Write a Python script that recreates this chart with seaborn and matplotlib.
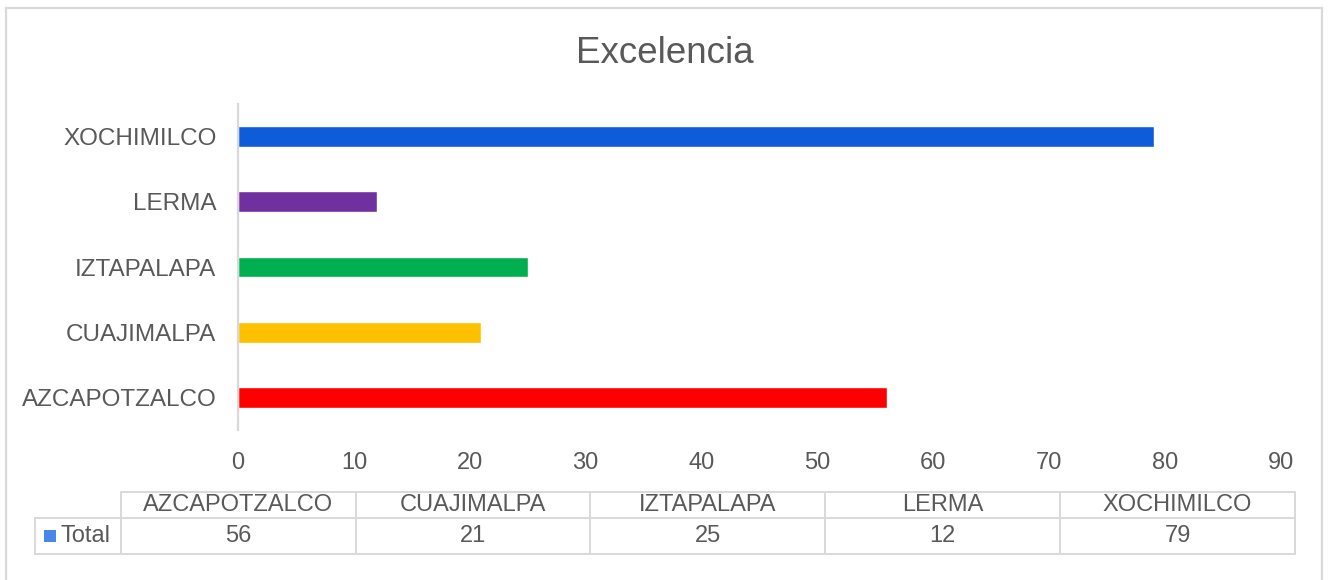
import matplotlib
matplotlib.use("Agg")
import pandas as pd
import seaborn as sns
import matplotlib.pyplot as plt
from matplotlib.patches import Rectangle
from matplotlib.lines import Line2D

# data (table order)
categories = ["AZCAPOTZALCO", "CUAJIMALPA", "IZTAPALAPA", "LERMA", "XOCHIMILCO"]
totals = [56, 21, 25, 12, 79]
bar_colors = ["#FF0000", "#FFC000", "#00B050", "#7030A0", "#0F5CDB"]
series_name = "Total"
title = "Excelencia"

W, H = 1329, 580
TXT = "#595959"
GRID = "#D9D9D9"

sns.set_style("white")
plt.rcParams['font.family'] = ['Liberation Sans', 'DejaVu Sans']

df = pd.DataFrame({"Campus": categories, "Total": totals})
palette = dict(zip(categories, bar_colors))

fig = plt.figure(figsize=(W / 100, H / 100), dpi=100)


def fx(px):
    return px / W


def fy(py):
    return 1 - py / H


ax = fig.add_axes([fx(238), fy(430), fx(1281) - fx(238), fy(104) - fy(430)])
sns.barplot(ax=ax, data=df, y="Campus", x="Total", hue="Campus", order=categories[::-1],
            palette=palette, legend=False, width=0.32, saturation=1)

ax.set_xlim(0, 90)
ax.set_xticks(range(0, 91, 10))
ax.set_xlabel("")
ax.set_ylabel("")
for s in ["top", "right", "bottom"]:
    ax.spines[s].set_visible(False)
ax.spines["left"].set_color(GRID)
ax.spines["left"].set_linewidth(1.6)
ax.tick_params(axis="y", length=0, pad=15.5, labelsize=17.5, labelcolor=TXT)
ax.tick_params(axis="x", length=0, pad=15.5, labelsize=17, labelcolor=TXT)

# title
fig.text(0.5, fy(63), title, ha="center", va="baseline", fontsize=26.5, color=TXT)

# outer frame
fig.add_artist(Rectangle((fx(5.5), fy(600)), fx(1322.5) - fx(5.5), fy(7.5) - fy(600),
                         transform=fig.transFigure, fill=False, edgecolor=GRID, linewidth=1.6))

# data table below the axis
col_edges = [120.7 + i * 234.86 for i in range(len(categories) + 1)]
row_top, row_mid, row_bot = 491.7, 518.3, 553.7
label_left = 35


def hline(x0, x1, y):
    fig.add_artist(Line2D([fx(x0), fx(x1)], [fy(y), fy(y)], transform=fig.transFigure,
                          color=GRID, linewidth=1.4))


def vline(x, y0, y1):
    fig.add_artist(Line2D([fx(x), fx(x)], [fy(y0), fy(y1)], transform=fig.transFigure,
                          color=GRID, linewidth=1.4))


hline(col_edges[0], col_edges[-1], row_top)
hline(label_left, col_edges[-1], row_mid)
hline(label_left, col_edges[-1], row_bot)
vline(label_left, row_mid, row_bot)
for x in col_edges:
    vline(x, row_top, row_bot)

for i, (cat, val) in enumerate(zip(categories, totals)):
    cx = (col_edges[i] + col_edges[i + 1]) / 2
    fig.text(fx(cx), fy((row_top + row_mid) / 2), cat, ha="center", va="center",
             fontsize=17, color=TXT)
    fig.text(fx(cx), fy((row_mid + row_bot) / 2), str(val), ha="center", va="center",
             fontsize=17, color=TXT)

# legend key + series name
fig.add_artist(Rectangle((fx(43.5), fy(542)), fx(12.5), 12.5 / H, transform=fig.transFigure,
                         facecolor="#4A86E8", edgecolor="none"))
fig.text(fx(60.5), fy((row_mid + row_bot) / 2), series_name, ha="left", va="center",
         fontsize=17, color=TXT)

fig.savefig("out.png", dpi=100)
